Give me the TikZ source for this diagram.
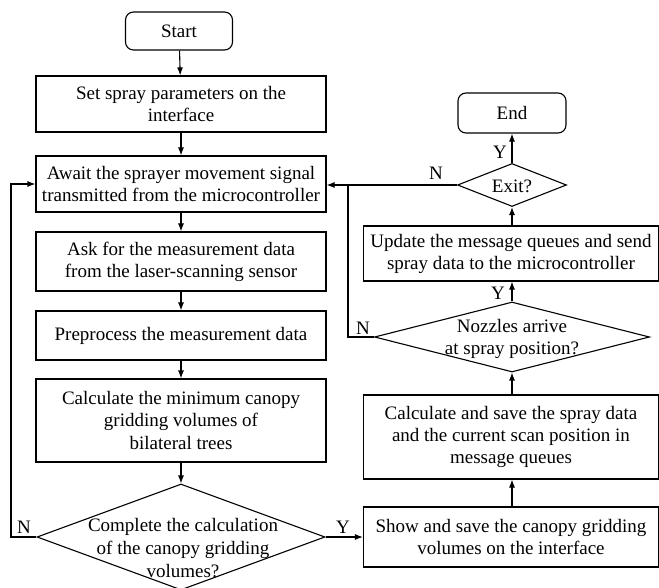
\documentclass[tikz,border=0pt]{standalone}
\usepackage{fontspec}
\setmainfont{Liberation Serif}
\usetikzlibrary{shapes.geometric,arrows.meta}
\begin{document}
\begin{tikzpicture}[x=1pt,y=-1pt,
  every node/.style={font=\fontsize{19}{22}\selectfont},
  box/.style={draw,line width=1.1pt,inner sep=0pt,align=center},
  term/.style={box,rounded corners=8pt},
  dia/.style={draw,line width=1.1pt,diamond,inner sep=0pt},
  lbl/.style={inner sep=0pt,align=center},
  arr/.style={line width=1.1pt,-{Latex[length=8pt,width=6pt]}},
  ln/.style={line width=1.1pt}]
\useasboundingbox (0,0) rectangle (659,588);
\node[term,minimum width=107pt,minimum height=38pt] (start) at (179,31) {Start};
\node[box,minimum width=290pt,minimum height=56pt] (set) at (181,104) {Set spray parameters on the\\interface};
\node[box,minimum width=290pt,minimum height=56pt] (await) at (181,184) {Await the sprayer movement signal\\transmitted from the microcontroller};
\node[box,minimum width=290pt,minimum height=59pt] (ask) at (181,261.5) {Ask for the measurement data\\from the laser-scanning sensor};
\node[box,minimum width=290pt,minimum height=49pt] (pre) at (181,335.5) {Preprocess the measurement data};
\node[box,minimum width=290pt,minimum height=83pt] (calc) at (181,420.5) {Calculate the minimum canopy\\gridding volumes of\\bilateral trees};
\node[dia,minimum width=288pt,minimum height=106pt] (dec) at (181,537) {};
\node[lbl,font=\fontsize{19}{23}\selectfont] (dect) at (183,548) {Complete the calculation\\of the canopy gridding\\volumes?};
\node[box,minimum width=295pt,minimum height=60pt] (show) at (511,537) {Show and save the canopy gridding\\volumes on the interface};
\node[box,minimum width=295pt,minimum height=84pt] (save) at (511,437) {Calculate and save the spray data\\and the current scan position in\\message queues};
\node[dia,minimum width=275pt,minimum height=70pt] (noz) at (512,337) {};
\node[lbl] (nozt) at (512,339) {Nozzles arrive\\at spray position?};
\node[box,minimum width=295pt,minimum height=55pt] (upd) at (511,253.5) {Update the message queues and send\\spray data to the microcontroller};
\node[dia,minimum width=109pt,minimum height=43pt] (exit) at (512,185) {};
\node[lbl] (exitt) at (512,186) {Exit?};
\node[term,minimum width=108pt,minimum height=40pt] (end) at (512,113) {End};
\coordinate (lx) at (11,537);
\coordinate (ly) at (11,184);
\coordinate (nx) at (348,337);
\coordinate (ny) at (348,185);
\draw[arr] (start) -- (set);
\draw[arr] (set) -- (await);
\draw[arr] (await) -- (ask);
\draw[arr] (ask) -- (pre);
\draw[arr] (pre) -- (calc);
\draw[arr] (calc) -- (dec);
\draw[arr] (dec.west) -- (lx) -- (ly) -- (await.west);
\draw[arr] (dec.east) -- (show.west);
\draw[arr] (show.north -| noz.north) -- (save.south -| noz.north);
\draw[arr] (save.north -| noz.south) -- (noz.south);
\draw[arr] (noz.north) -- (upd.south -| noz.north);
\draw[arr] (upd.north -| exit.south) -- (exit.south);
\draw[arr] (exit.north) -- (end.south -| exit.north);
\draw[arr] (exit.west) -- (await.east |- exit.west);
\draw[ln] (noz.west) -- (nx) -- (ny);
\node[lbl] (n1) at (24,527) {N};
\node[lbl] (y1) at (343,527) {Y};
\node[lbl] (n2) at (363,328) {N};
\node[lbl] (y2) at (498,293) {Y};
\node[lbl] (n3) at (436,173) {N};
\node[lbl] (y3) at (500,152) {Y};
\end{tikzpicture}
\end{document}
